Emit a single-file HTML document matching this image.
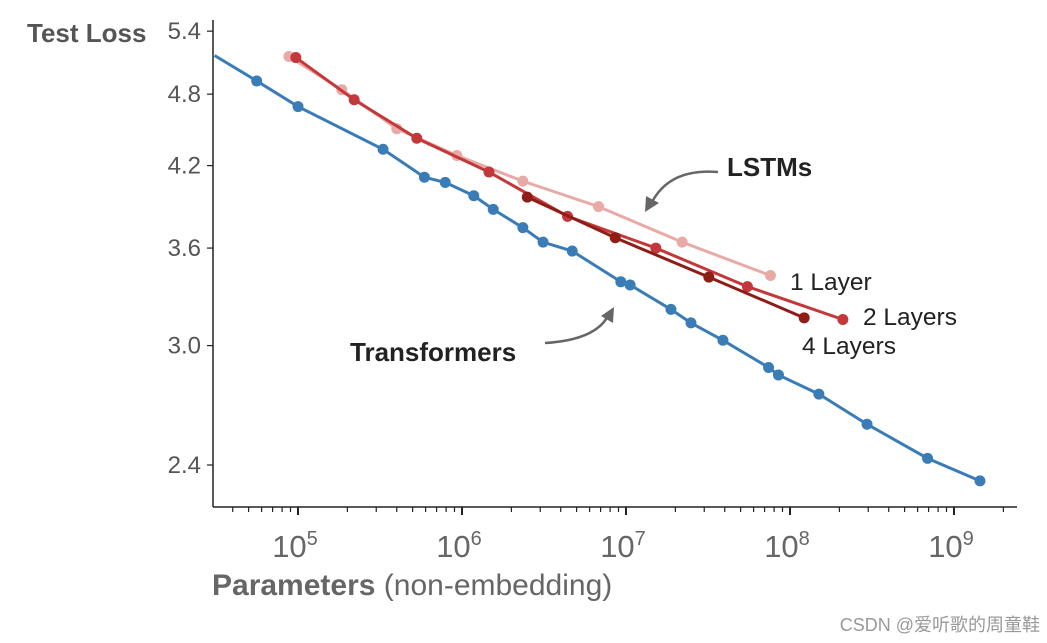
<!DOCTYPE html>
<html><head><meta charset="utf-8">
<style>
html,body{margin:0;padding:0;background:#fff;}
svg{display:block;font-family:"Liberation Sans","Noto Sans CJK SC",sans-serif;}
</style></head>
<body>
<svg id="chart" width="1047" height="643" viewBox="0 0 1047 643" xmlns="http://www.w3.org/2000/svg"></svg>
<script>
const transformerX=[5.6e4,1e5,3.3e5,5.9e5,7.9e5,1.18e6,1.55e6,2.35e6,3.12e6,4.7e6,9.3e6,1.06e7,1.88e7,2.49e7,3.9e7,7.4e7,8.5e7,1.5e8,2.95e8,6.9e8,1.44e9];
const transformerY=[4.92,4.69,4.33,4.11,4.07,3.97,3.87,3.74,3.64,3.58,3.38,3.36,3.21,3.13,3.03,2.88,2.84,2.74,2.59,2.43,2.33];
const transformerLineStart=[3.1e4,5.16];
const lstm1X=[8.8e4,1.85e5,4.0e5,9.3e5,2.35e6,6.8e6,2.2e7,7.6e7];
const lstm1Y=[5.15,4.84,4.50,4.28,4.08,3.89,3.64,3.42];
const lstm2X=[9.7e4,2.2e5,5.3e5,1.46e6,4.4e6,1.52e7,5.5e7,2.1e8];
const lstm2Y=[5.14,4.75,4.42,4.15,3.82,3.60,3.35,3.15];
const lstm4X=[2.5e6,8.6e6,3.2e7,1.22e8];
const lstm4Y=[3.96,3.67,3.41,3.16];
const yTicks=[2.4,3.0,3.6,4.2,4.8,5.4];
const xTickExps=[5,6,7,8,9];

const NS="http://www.w3.org/2000/svg";
const svg=document.getElementById('chart');
function xs(v){return 298+(Math.log10(v)-5)*164;}
function ys(v){return 465-Math.log(v/2.4)*535;}
function mk(tag,attrs,parent){const e=document.createElementNS(NS,tag);for(const k in attrs)e.setAttribute(k,attrs[k]);(parent||svg).appendChild(e);return e;}

const axes=mk('g',{});


const ya=mk('line',{x1:213,y1:20,x2:213,y2:507,stroke:'#222','stroke-width':1.5},axes);


const xa=mk('line',{x1:213,y1:507,x2:1017,y2:507,stroke:'#222','stroke-width':1.5},axes);



for(let d=4;d<=9;d++){for(let m=1;m<10;m++){const v=m*Math.pow(10,d);const x=xs(v);if(x<213||x>1017)continue;
 const t=mk('line',{x1:x,y1:507,x2:x,y2:m===1?515:512,stroke:'#222','stroke-width':m===1?2:1.2},axes);
 
 }}
xTickExps.forEach(e=>{const t=mk('text',{x:xs(Math.pow(10,e))-3,y:557,'text-anchor':'middle','font-size':31,fill:'#666'},axes);
 
 
 t.textContent='10';const s=mk('tspan',{dy:-12,'font-size':20},t);s.textContent=String(e);});
yTicks.forEach(v=>{const y=ys(v);
 const l=mk('line',{x1:207,y1:y,x2:213,y2:y,stroke:'#222','stroke-width':1.2},axes);
 
 
 const t=mk('text',{x:201,y:y+8,'text-anchor':'end','font-size':24,fill:'#555'},axes);
 
 
 t.textContent=v.toFixed(1);});

const yt=mk('text',{x:27,y:42,'font-size':26,'font-weight':'bold',fill:'#555'});


yt.textContent='Test Loss';
const xt=mk('text',{x:212,y:595,'font-size':30,fill:'#666'});


const b=mk('tspan',{'font-weight':'bold'},xt);b.textContent='Parameters';
const n=mk('tspan',{},xt);n.textContent=' (non-embedding)';

function series(name,X,Y,color,start){
 const g=mk('g',{});
 
 
 let pts=X.map((x,i)=>xs(x)+','+ys(Y[i]));
 if(start)pts.unshift(xs(start[0])+','+ys(start[1]));
 const pl=mk('polyline',{points:pts.join(' '),fill:'none',stroke:color,'stroke-width':3},g);
 
 
 X.forEach((x,i)=>{const c=mk('circle',{cx:xs(x),cy:ys(Y[i]),r:5.5,fill:color},g);
  
  });
}
series('lstm-1-layer',lstm1X,lstm1Y,'#e8aaa6');
series('lstm-2-layers',lstm2X,lstm2Y,'#c3383a');
series('lstm-4-layers',lstm4X,lstm4Y,'#8e1d17');
series('transformers',transformerX,transformerY,'#3a7cb5',transformerLineStart);

function label(txt,x,y,name,bold,size){const t=mk('text',{x:x,y:y,'font-size':size||22,'font-weight':bold?'bold':'normal',fill:'#222'});
 
 
 t.textContent=txt;}
label('1 Layer',790,290,'label-1-layer',false,24.5);
label('2 Layers',863,325,'label-2-layers',false,24.5);
label('4 Layers',802,354,'label-4-layers',false,24.5);
label('LSTMs',727,176,'label-lstms',true,26);
label('Transformers',350,361,'label-transformers',true,26);

const a1=mk('path',{d:'M718,172 Q670,168 652,202',fill:'none',stroke:'#666','stroke-width':2.5});


const h1=mk('path',{d:'M645,212 L646,196 L659,203 Z',fill:'#666'});


const a2=mk('path',{d:'M545,343 Q595,340 608,316',fill:'none',stroke:'#666','stroke-width':2.5});


const h2=mk('path',{d:'M614,307 L613,323 L601,316 Z',fill:'#666'});



const wm=mk('text',{x:1040,y:631,'text-anchor':'end','font-size':18,fill:'#999'});


wm.textContent='CSDN @爱听歌的周童鞋';
</script>
</body></html>
